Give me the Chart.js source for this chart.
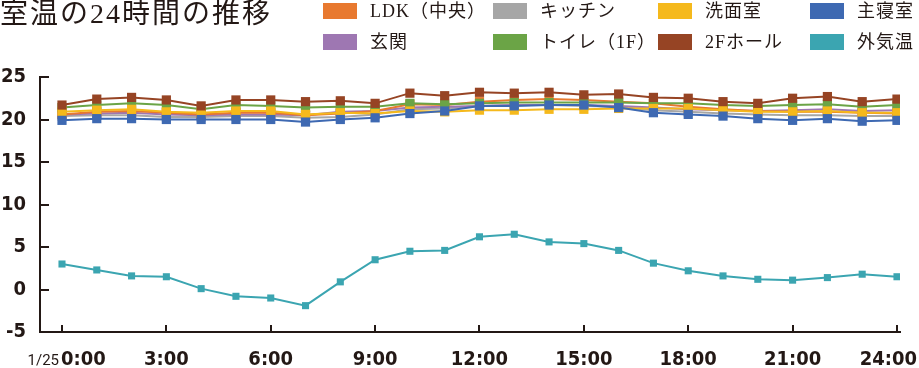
<!DOCTYPE html>
<html>
<head>
<meta charset="utf-8">
<script src="https://cdn.jsdelivr.net/npm/chart.js@4"></script>
<style>
  body { margin: 0; background: #fff; overflow: hidden; }
  #wrap { position: relative; width: 919px; height: 368px; color: #231815; font-family: 'Liberation Serif', 'Noto Sans CJK JP', serif; }
  #c { position: absolute; left: 0; top: 0; }
  #title { position: absolute; left: 0; top: 0; font-size: 28px; line-height: 28px; letter-spacing: 2px; white-space: nowrap; }
  .lg { position: absolute; font-size: 18px; line-height: 22px; letter-spacing: 1px; white-space: nowrap; }
  .lg i { position: absolute; left: -47px; top: 3px; width: 34px; height: 16px; }
</style>
</head>
<body>
<div id="wrap">
  <canvas id="c" width="919" height="368"></canvas>
  <div id="title">室温の24時間の推移</div>
</div>
<script>
// 時刻 (1/25 0:00 〜 24:00)
const hours = [0,1,2,3,4,5,6,7,8,9,10,11,12,13,14,15,16,17,18,19,20,21,22,23,24];

const names = ['LDK（中央）', 'キッチン', '洗面室', '主寝室', '玄関', 'トイレ（1F）', '2Fホール', '外気温'];
const colors = ['#E8792F', '#A6A6A6', '#F5B91C', '#3E69B2', '#9E77B2', '#6BA446', '#964424', '#3BA5B1'];

const ldk     = [20.6,20.9,21.0,20.8,20.6,20.8,20.8,20.5,20.7,21.0,21.8,21.7,22.1,22.3,22.4,22.3,22.1,21.9,21.5,21.2,21.0,20.9,20.9,20.8,20.7];
const kitchen = [20.4,20.5,20.5,20.3,20.3,20.4,20.4,20.2,20.3,20.6,21.2,21.3,21.6,21.7,21.7,21.6,21.5,21.1,20.9,20.7,20.6,20.5,20.5,20.4,20.4];
const senmen  = [20.9,21.1,21.2,20.9,20.8,21.0,21.0,20.6,20.8,20.7,21.0,20.9,21.1,21.1,21.2,21.2,21.3,21.3,21.3,21.1,20.9,20.9,21.0,20.8,20.8];
const shushin = [19.9,20.1,20.1,20.0,20.0,20.0,20.0,19.7,20.0,20.2,20.7,21.0,21.6,21.6,21.7,21.7,21.4,20.8,20.6,20.4,20.1,19.9,20.1,19.8,19.9];
const genkan  = [20.6,20.7,20.8,20.6,20.5,20.6,20.6,20.5,20.9,21.0,21.4,21.5,21.6,21.7,21.7,21.7,21.6,21.4,21.2,21.1,21.0,21.1,21.2,21.0,21.1];
const toilet  = [21.4,21.7,21.9,21.7,21.2,21.7,21.6,21.4,21.5,21.5,21.9,21.8,21.9,22.0,22.0,22.0,22.0,21.9,21.9,21.7,21.6,21.7,21.8,21.5,21.7];
const hall2f  = [21.7,22.4,22.6,22.3,21.6,22.3,22.3,22.1,22.2,21.9,23.1,22.8,23.2,23.1,23.2,22.9,23.0,22.6,22.5,22.1,21.9,22.5,22.7,22.1,22.4];
const gaiki   = [3.0,2.3,1.6,1.5,0.1,-0.8,-1.0,-1.9,0.9,3.5,4.5,4.6,6.2,6.5,5.6,5.4,4.6,3.1,2.2,1.6,1.2,1.1,1.4,1.8,1.5];

const series = [ldk, kitchen, senmen, shushin, genkan, toilet, hall2f, gaiki];
const drawOrder = [5, 7, 3, 2, 6, 4, 1, 0]; // 小さいほど手前

const yTicks = [-5, 0, 5, 10, 15, 20, 25];
const xTicks = [0, 3, 6, 9, 12, 15, 18, 21, 24];

// 凡例 (4列×2段)
const lgPos = [[370,0],[540,0],[705,0],[857,0],[370,31],[540,31],[705,31],[857,31]];
const wrap = document.getElementById('wrap');
names.forEach((n, i) => {
  const d = document.createElement('div');
  d.className = 'lg';
  d.style.left = lgPos[i][0] + 'px';
  d.style.top = lgPos[i][1] + 'px';
  d.innerHTML = '<i style="background:' + colors[i] + '"></i>' + n;
  wrap.appendChild(d);
});

const numFont = "'DejaVu Sans Condensed', 'DejaVu Sans', sans-serif";
const ink = '#231815';

const axisMarks = {
  id: 'axisMarks',
  afterDraw(chart) {
    const ctx = chart.ctx;
    const xs = chart.scales.x, ys = chart.scales.y;
    const a = chart.chartArea;
    ctx.save();
    ctx.strokeStyle = ink;
    ctx.lineWidth = 2;
    ctx.beginPath();
    yTicks.forEach(v => {
      const py = Math.round(ys.getPixelForValue(v));
      ctx.moveTo(a.left, py);
      ctx.lineTo(a.left + 9, py);
    });
    xTicks.forEach(v => {
      const px = Math.round(xs.getPixelForValue(v));
      ctx.moveTo(px, a.bottom);
      ctx.lineTo(px, a.bottom - 7);
    });
    ctx.stroke();

    ctx.fillStyle = ink;
    ctx.textBaseline = 'alphabetic';
    const by = 365;
    xTicks.forEach(v => {
      const px = xs.getPixelForValue(v);
      const t = v + ':00';
      ctx.font = 'bold 20px ' + numFont;
      const w = ctx.measureText(t).width;
      if (v === 0) {
        ctx.textAlign = 'left';
        ctx.fillText(t, px - 1, by);
        ctx.font = '15px Roboto, sans-serif';
        ctx.textAlign = 'right';
        ctx.fillText('1/25', px - 3, by);
      } else if (px + w / 2 > 917) {
        ctx.textAlign = 'right';
        ctx.fillText(t, 917, by);
      } else {
        ctx.textAlign = 'center';
        ctx.fillText(t, px, by);
      }
    });
    ctx.restore();
  }
};

new Chart(document.getElementById('c'), {
  type: 'line',
  data: {
    datasets: series.map((s, i) => ({
      label: names[i],
      data: s.map((v, k) => ({ x: hours[k], y: v })),
      borderColor: colors[i],
      backgroundColor: colors[i],
      borderWidth: 2,
      pointStyle: 'rect',
      pointRadius: i === 7 ? 5 : 6.5,
      pointBorderWidth: 0,
      tension: 0,
      order: drawOrder[i]
    }))
  },
  options: {
    responsive: false,
    animation: false,
    events: [],
    layout: { padding: { top: 77, right: 19, left: 0, bottom: 0 } },
    plugins: { legend: { display: false }, tooltip: { enabled: false } },
    scales: {
      x: {
        type: 'linear',
        min: -0.632,
        max: 24.087,
        afterFit(s) { s.height = 36; },
        ticks: { display: false, stepSize: 3, includeBounds: false },
        grid: { display: false, drawTicks: false },
        border: { display: true, color: ink, width: 2 }
      },
      y: {
        min: -5,
        max: 25,
        afterFit(s) { s.width = 40; },
        ticks: {
          stepSize: 5,
          padding: 14,
          color: ink,
          font: { family: numFont, size: 20, weight: 'bold' }
        },
        grid: { display: false, drawTicks: false },
        border: { display: true, color: ink, width: 2 }
      }
    }
  },
  plugins: [axisMarks]
});
</script>
</body>
</html>
